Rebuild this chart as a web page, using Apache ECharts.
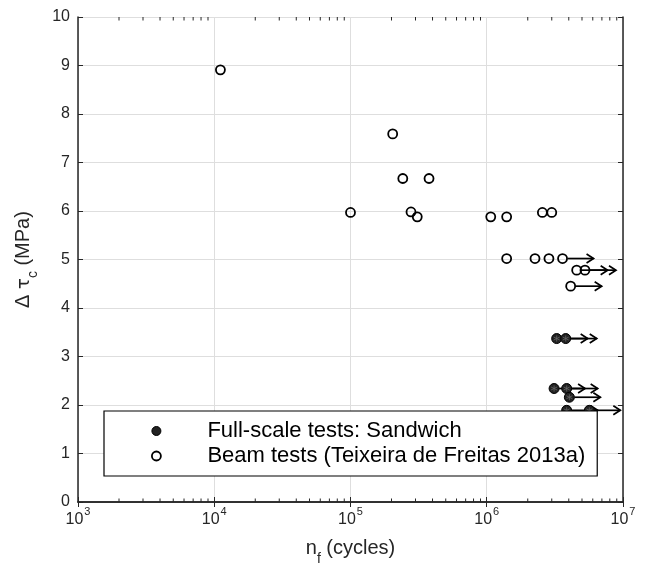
<!DOCTYPE html>
<html lang="en">
<head>
  <meta charset="UTF-8">
  <title>Fatigue results</title>
  <script src="https://cdn.jsdelivr.net/npm/echarts@6/dist/echarts.min.js"></script>
</head>
<body style="margin:0;background:#fff">
  <div id="main" style="width:645px;height:571px;"></div>
  <script>
    // cycles to failure (or run-out) and shear stress range
    var beamCycles = [1.11e4, 1.0e5, 2.04e5, 2.42e5, 3.77e5, 2.78e5, 3.09e5, 1.07e6, 1.40e6, 2.56e6, 3.0e6,
      1.40e6, 2.26e6, 2.86e6, 3.6e6, 4.57e6, 5.26e6, 4.13e6];
    var beamTau = [8.91, 5.97, 7.59, 6.67, 6.67, 5.98, 5.88, 5.88, 5.88, 5.97, 5.97,
      5.02, 5.02, 5.02, 5.02, 4.78, 4.78, 4.45];
    // 1 = test stopped without failure (arrow)
    var beamRunout = [0, 0, 0, 0, 0, 0, 0, 0, 0, 0, 0, 0, 0, 0, 1, 1, 1, 1];

    var sandCycles = [3.26e6, 3.80e6, 3.12e6, 3.86e6, 4.04e6, 3.86e6, 5.66e6];
    var sandTau = [3.37, 3.37, 2.34, 2.34, 2.16, 1.89, 1.89];

    var seriesNames = ['Full-scale tests: Sandwich', 'Beam tests (Teixeira de Freitas 2013a)'];

    var FONT = 'Liberation Sans, Arial, Helvetica, sans-serif';
    var AX = '#262626';

    var beamData = beamCycles.map(function (n, i) { return [n, beamTau[i]]; });
    var sandData = sandCycles.map(function (n, i) { return [n, sandTau[i]]; });
    var arrowData = sandData.concat(beamData.filter(function (d, i) { return beamRunout[i]; }));

    // log minor ticks 2..9 per decade
    var minorTicks = [];
    for (var e = 3; e < 7; e++) {
      for (var m = 2; m < 10; m++) minorTicks.push([m * Math.pow(10, e), 0]);
    }

    function renderArrow(params, api) {
      var p = api.coord([api.value(0), api.value(1)]);
      var x0 = p[0] + 5, x1 = p[0] + 31, y = p[1];
      return {
        type: 'group',
        children: [
          { type: 'line', shape: { x1: x0, y1: y, x2: x1, y2: y }, style: { stroke: '#000', lineWidth: 1.7 } },
          { type: 'polyline', shape: { points: [[x1 - 7, y - 4.5], [x1, y], [x1 - 7, y + 4.5]] },
            style: { stroke: '#000', fill: null, lineWidth: 1.7 } }
        ]
      };
    }

    function renderMinor(params, api) {
      var b = api.coord([api.value(0), 0]);
      var t = api.coord([api.value(0), 10]);
      return {
        type: 'group',
        children: [
          { type: 'line', shape: { x1: b[0], y1: b[1], x2: b[0], y2: b[1] - 3.5 }, style: { stroke: AX, lineWidth: 1 } },
          { type: 'line', shape: { x1: t[0], y1: t[1], x2: t[0], y2: t[1] + 3.5 }, style: { stroke: AX, lineWidth: 1 } }
        ]
      };
    }

    var myChart = echarts.init(document.getElementById('main'));

    var logAxis = {
      type: 'log',
      logBase: 10,
      min: 1e3,
      max: 1e7,
      axisLine: { lineStyle: { color: AX, width: 1.5 } },
      axisTick: { inside: true, length: 5, lineStyle: { color: AX } }
    };
    var valAxis = {
      type: 'value',
      min: 0,
      max: 10,
      interval: 1,
      axisLine: { show: true, lineStyle: { color: AX, width: 1.5 } },
      axisTick: { show: true, inside: true, length: 5, lineStyle: { color: AX } }
    };

    var option = {
      animation: false,
      backgroundColor: '#fff',
      textStyle: { fontFamily: FONT },
      grid: { left: 78, top: 17, right: 22, bottom: 69 },
      xAxis: [
        Object.assign({}, logAxis, {
          position: 'bottom',
          splitLine: { show: true, lineStyle: { color: '#dedede', width: 1 } },
          axisLabel: {
            margin: 4,
            color: AX,
            formatter: function (v) {
              return '{b|10}{p|' + Math.round(Math.log10(v)) + '}';
            },
            rich: {
              b: { fontSize: 16, fontFamily: FONT, color: AX, verticalAlign: 'bottom' },
              p: { fontSize: 11, fontFamily: FONT, color: AX, verticalAlign: 'bottom', padding: [0, 0, 11, 1] }
            }
          },
          name: '{t|n}{s|f}{t| (cycles)}',
          nameLocation: 'middle',
          nameGap: 36,
          nameTextStyle: {
            rich: {
              t: { fontSize: 20, fontFamily: FONT, color: AX, verticalAlign: 'bottom', padding: [0, 0, 8, 0] },
              s: { fontSize: 14, fontFamily: FONT, color: AX, verticalAlign: 'bottom' }
            }
          }
        }),
        Object.assign({}, logAxis, {
          position: 'top',
          splitLine: { show: false },
          axisLabel: { show: false }
        })
      ],
      yAxis: [
        Object.assign({}, valAxis, {
          position: 'left',
          splitLine: { show: true, lineStyle: { color: '#dedede', width: 1 } },
          axisLabel: { fontSize: 16, color: AX, margin: 8 },
          name: '{t|Δ }{g|τ}{s|c}{t| (MPa)}',
          nameLocation: 'middle',
          nameRotate: 90,
          nameGap: 38,
          nameTextStyle: {
            rich: {
              t: { fontSize: 20, fontFamily: FONT, color: AX, verticalAlign: 'bottom', padding: [0, 0, 7, 0] },
              g: { fontSize: 18, fontFamily: 'DejaVu Sans', color: AX, verticalAlign: 'bottom', padding: [0, 0, 7, 0] },
              s: { fontSize: 14, fontFamily: FONT, color: AX, verticalAlign: 'bottom' }
            }
          }
        }),
        Object.assign({}, valAxis, {
          position: 'right',
          splitLine: { show: false },
          axisLabel: { show: false }
        })
      ],
      legend: {
        orient: 'vertical',
        left: 104,
        top: 411,
        padding: [9, 12, 9, 47],
        itemWidth: 92,
        itemHeight: 9,
        itemGap: 3,
        backgroundColor: '#fff',
        borderColor: '#000',
        borderWidth: 1.2,
        borderRadius: 0,
        textStyle: { fontSize: 22, fontFamily: FONT, color: '#000' },
        data: [
          { name: seriesNames[0], icon: 'circle', itemStyle: { color: '#222', borderColor: '#000', borderWidth: 1 } },
          { name: seriesNames[1], icon: 'circle', itemStyle: { color: 'rgba(0,0,0,0)', borderColor: '#000', borderWidth: 1.8 } }
        ]
      },
      series: [
        {
          type: 'custom',
          silent: true,
          renderItem: renderMinor,
          data: minorTicks,
          z: 1
        },
        {
          type: 'custom',
          silent: true,
          clip: false,
          renderItem: renderArrow,
          data: arrowData,
          z: 2
        },
        {
          name: seriesNames[0],
          type: 'scatter',
          symbol: 'circle',
          symbolSize: 10,
          data: sandData,
          itemStyle: { color: '#222', borderColor: '#000', borderWidth: 1, opacity: 1 },
          z: 3
        },
        {
          // asterisk drawn inside the filled markers
          type: 'scatter',
          silent: true,
          symbol: 'path://M5 0L5 10M0.7 2.5L9.3 7.5M9.3 2.5L0.7 7.5',
          symbolSize: 6,
          data: sandData,
          itemStyle: { color: 'none', borderColor: '#666', borderWidth: 0.8, opacity: 1 },
          z: 3
        },
        {
          name: seriesNames[1],
          type: 'scatter',
          symbol: 'circle',
          symbolSize: 9,
          data: beamData,
          itemStyle: { color: 'rgba(0,0,0,0)', borderColor: '#000', borderWidth: 1.8, opacity: 1 },
          z: 3
        }
      ]
    };

    myChart.setOption(option);
  </script>
</body>
</html>
